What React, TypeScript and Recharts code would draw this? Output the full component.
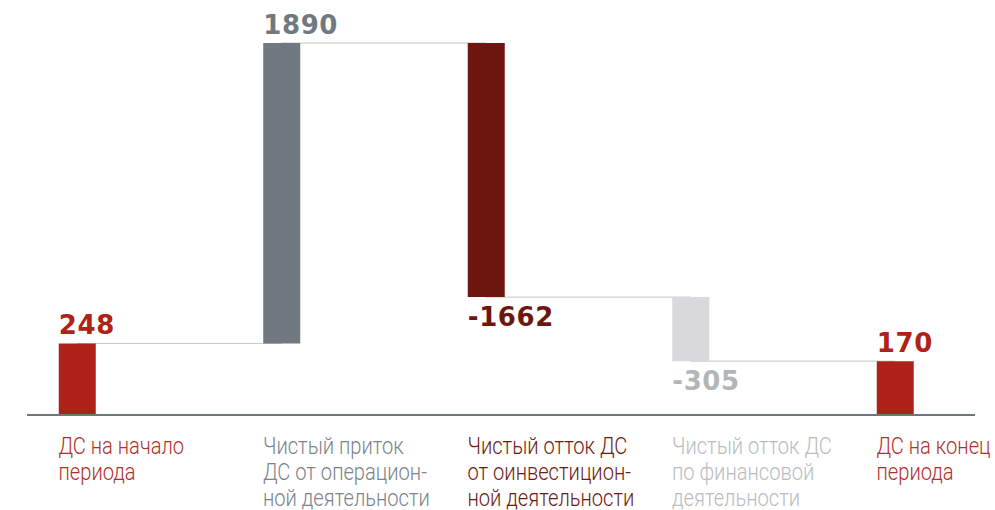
import React from 'react';
import { ComposedChart, Bar, Line, XAxis, YAxis, Cell, LabelList } from 'recharts';

// ---- data ----
const categoryLines: string[][] = [
  ['ДС на начало', 'периода'],
  ['Чистый приток', 'ДС от операцион-', 'ной деятельности'],
  ['Чистый отток ДС', 'от оинвестицион-', 'ной деятельности'],
  ['Чистый отток ДС', 'по финансовой', 'деятельности'],
  ['ДС на конец', 'периода'],
];
const changes = [248, 1890, -1662, -305, 170];
const isTotal = [true, false, false, false, true];
const valueLabels = ['248', '1890', '-1662', '-305', '170'];

// ---- styles ----
const barColors = ['#ad2318', '#6f797f', '#6c160f', '#d9d9dc', '#ad2318'];
const valueColors = ['#ad2318', '#6f797f', '#6c160f', '#b3b6b9', '#ad2318'];
const textColors = ['#b0302a', '#7b8388', '#6c1a12', '#b9bcbf', '#b0302a'];
const BAR = 37;

// waterfall table built from the values
let running = 0;
const data = changes.map((v, i) => {
  let low: number, high: number;
  if (isTotal[i]) {
    low = 0;
    high = v;
    running = v;
  } else {
    const end = running + v;
    low = Math.min(running, end);
    high = Math.max(running, end);
    running = end;
  }
  return { idx: i, range: [low, high], level: running };
});

// power scale (d3-like) for the value axis
function powScale(k: number): any {
  let dom: number[] = [0, 1];
  let rng: number[] = [0, 1];
  const t = (v: number) => Math.sign(v) * Math.pow(Math.abs(v), k);
  const scale: any = (v: number) => {
    const a = t(dom[0]);
    const b = t(dom[dom.length - 1]);
    const r = b === a ? 0.5 : (t(Number(v)) - a) / (b - a);
    return rng[0] + r * (rng[rng.length - 1] - rng[0]);
  };
  scale.domain = (d?: any) => {
    if (d === undefined) return dom.slice();
    dom = Array.from(d, (x: any) => Number(x));
    return scale;
  };
  scale.range = (r?: any) => {
    if (r === undefined) return rng.slice();
    rng = Array.from(r, (x: any) => Number(x));
    return scale;
  };
  scale.copy = () => powScale(k).domain(dom).range(rng);
  scale.invert = (p: number) => {
    const a = t(dom[0]);
    const b = t(dom[dom.length - 1]);
    const r = (p - rng[0]) / (rng[rng.length - 1] - rng[0]);
    const tv = a + r * (b - a);
    return Math.sign(tv) * Math.pow(Math.abs(tv), 1 / k);
  };
  scale.ticks = (n: number = 5) => {
    const lo = Math.min(dom[0], dom[dom.length - 1]);
    const hi = Math.max(dom[0], dom[dom.length - 1]);
    const span = hi - lo || 1;
    let step = Math.pow(10, Math.floor(Math.log10(span / n)));
    const err = span / n / step;
    if (err >= 7.5) step *= 10;
    else if (err >= 3.5) step *= 5;
    else if (err >= 1.5) step *= 2;
    const out: number[] = [];
    for (let v = Math.ceil(lo / step) * step; v <= hi + 1e-9; v += step) out.push(v);
    return out;
  };
  scale.tickFormat = () => (v: number) => String(v);
  return scale;
}

const CategoryTick = (props: any) => {
  const { x, y, payload } = props;
  const i = Number(payload.value);
  const lines = categoryLines[i] || [];
  return (
    <g>
      {lines.map((ln, j) => (
        <text
          key={j}
          x={0}
          y={0}
          transform={`translate(${Number(x) - BAR / 2}, ${Number(y) + 39 + j * 26}) scale(0.875, 1)`}
          fill={textColors[i]}
          fontFamily="Roboto"
          fontWeight={300}
          fontSize={23}
        >
          {ln}
        </text>
      ))}
    </g>
  );
};

const ValueLabel = (props: any) => {
  const { x, y, height, index } = props;
  const up = changes[index] >= 0;
  const ty = up ? Number(y) - 9 : Number(y) + Number(height) + 29;
  return (
    <text
      x={Number(x)}
      y={ty}
      fill={valueColors[index]}
      fontFamily="DejaVu Sans"
      fontWeight="bold"
      fontSize={26}
      letterSpacing={0.6}
    >
      {valueLabels[index]}
    </text>
  );
};

export default function App() {
  return (
    <div style={{ position: 'absolute', left: 0, top: 0, width: 995, height: 510, background: '#ffffff' }}>
      <ComposedChart
        width={995}
        height={510}
        data={data}
        margin={{ top: 43, right: 20, bottom: 0, left: 27 }}
      >
        <XAxis
          dataKey="idx"
          type="number"
          domain={[0, categoryLines.length - 1]}
          ticks={data.map((d) => d.idx)}
          interval={0}
          padding={{ left: 50, right: 80 }}
          height={95}
          tickLine={false}
          tickSize={0}
          tickMargin={0}
          axisLine={{ stroke: '#6f777c', strokeWidth: 2 }}
          tick={<CategoryTick />}
        />
        <YAxis hide type="number" domain={[0, 'dataMax']} scale={powScale(0.765)} />
        <Line
          dataKey="level"
          type="stepAfter"
          stroke="#c3c4c8"
          strokeWidth={1}
          dot={false}
          activeDot={false}
          isAnimationActive={false}
          zIndex={100}
        />
        <Bar dataKey="range" barSize={BAR} isAnimationActive={false} zIndex={300}>
          {data.map((d, i) => (
            <Cell key={i} fill={barColors[i]} />
          ))}
          <LabelList dataKey="range" content={<ValueLabel />} />
        </Bar>
      </ComposedChart>
    </div>
  );
}
